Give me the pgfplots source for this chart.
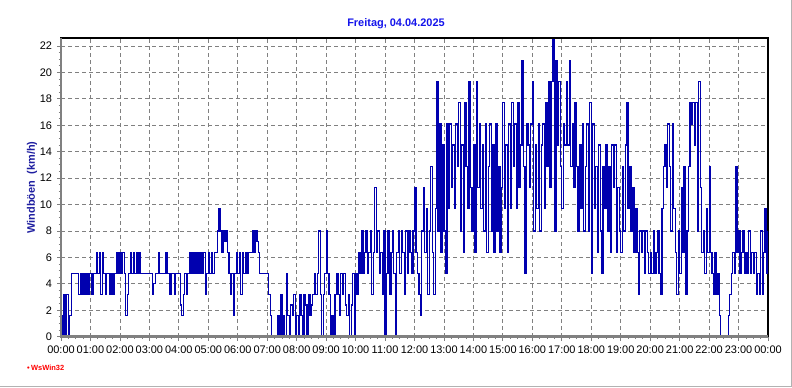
\documentclass[border=0pt]{standalone}
\usepackage{pgfplots}
\pgfplotsset{compat=1.18}
\usepackage{pgfplotstable}
\usepackage{fontspec}
\setmainfont{Liberation Sans}
\definecolor{lineblue}{RGB}{0,0,175}
\definecolor{titleblue}{RGB}{20,20,235}
\definecolor{labelblue}{RGB}{30,30,160}
\pgfplotstableread[row sep=\\]{
t v\\
0 1.6\\ 3 0\\ 6 3.2\\ 9 0\\ 12 3.2\\ 15 0\\ 18 1.6\\ 21 4.8\\ 24 4.8\\ 27 4.8\\ 30 4.8\\ 33 4.8\\ 36 3.2\\ 39 4.8\\ 42 3.2\\ 45 4.8\\ 48 3.2\\ 51 4.8\\ 54 3.2\\ 57 4.8\\
60 4.8\\ 63 3.2\\ 66 4.8\\ 69 4.8\\ 72 6.4\\ 75 4.8\\ 78 6.4\\ 81 3.2\\ 84 6.4\\ 87 4.8\\ 90 3.2\\ 93 4.8\\ 96 4.8\\ 99 3.2\\ 102 4.8\\ 105 3.2\\ 108 4.8\\ 111 4.8\\ 114 6.4\\ 117 4.8\\
120 6.4\\ 123 4.8\\ 126 6.4\\ 129 4.8\\ 132 1.6\\ 135 3.2\\ 138 4.8\\ 141 6.4\\ 144 4.8\\ 147 6.4\\ 150 4.8\\ 153 6.4\\ 156 4.8\\ 159 6.4\\ 162 4.8\\ 165 4.8\\ 168 4.8\\ 171 4.8\\ 174 4.8\\ 177 4.8\\
180 4.8\\ 183 4.8\\ 186 3.2\\ 189 4.0\\ 192 4.8\\ 195 4.8\\ 198 6.4\\ 201 4.8\\ 204 4.8\\ 207 4.8\\ 210 4.8\\ 213 6.4\\ 216 4.8\\ 219 4.8\\ 222 3.2\\ 225 4.8\\ 228 4.8\\ 231 3.2\\ 234 4.8\\ 237 4.8\\
240 4.8\\ 243 2.4\\ 246 1.6\\ 249 3.2\\ 252 4.8\\ 255 3.2\\ 258 4.8\\ 261 6.4\\ 264 4.8\\ 267 6.4\\ 270 4.8\\ 273 6.4\\ 276 4.8\\ 279 6.4\\ 282 4.8\\ 285 6.4\\ 288 4.8\\ 291 6.4\\ 294 3.2\\ 297 4.8\\
300 6.4\\ 303 4.8\\ 306 6.4\\ 309 4.8\\ 312 6.4\\ 315 6.4\\ 318 8.0\\ 321 9.7\\ 324 8.0\\ 327 6.4\\ 330 8.0\\ 333 7.2\\ 336 8.0\\ 339 6.4\\ 342 4.8\\ 345 3.2\\ 348 4.8\\ 351 1.6\\ 354 4.8\\ 357 6.4\\
360 4.8\\ 363 6.4\\ 366 3.2\\ 369 6.4\\ 372 4.8\\ 375 6.4\\ 378 4.8\\ 381 6.4\\ 384 6.4\\ 387 6.4\\ 390 8.0\\ 393 6.4\\ 396 8.0\\ 399 7.2\\ 402 6.4\\ 405 4.8\\ 408 4.8\\ 411 4.8\\ 414 4.8\\ 417 4.8\\
420 4.8\\ 423 3.2\\ 426 1.6\\ 429 0\\ 432 0\\ 435 0\\ 438 0\\ 441 1.6\\ 444 0\\ 447 3.2\\ 450 0\\ 453 1.6\\ 456 0\\ 459 4.8\\ 462 1.6\\ 465 0\\ 468 2.4\\ 471 1.6\\ 474 3.2\\ 477 0\\
480 1.6\\ 483 0\\ 486 3.2\\ 489 1.6\\ 492 0\\ 495 3.2\\ 498 2.4\\ 501 0\\ 504 3.2\\ 507 1.6\\ 510 2.4\\ 513 3.2\\ 516 4.8\\ 519 3.2\\ 522 4.8\\ 525 8.0\\ 528 3.2\\ 531 0\\ 534 3.2\\ 537 4.8\\
540 8.0\\ 543 4.8\\ 546 3.2\\ 549 0\\ 552 1.6\\ 555 0\\ 558 3.2\\ 561 4.8\\ 564 3.2\\ 567 1.6\\ 570 4.8\\ 573 3.2\\ 576 4.8\\ 579 2.4\\ 582 1.6\\ 585 3.2\\ 588 0\\ 591 2.4\\ 594 4.8\\ 597 0\\
600 4.8\\ 603 3.2\\ 606 6.4\\ 609 4.8\\ 612 8.0\\ 615 4.8\\ 618 6.4\\ 621 8.0\\ 624 4.8\\ 627 6.4\\ 630 8.0\\ 633 3.2\\ 636 6.4\\ 639 11.3\\ 642 6.4\\ 645 8.0\\ 648 4.8\\ 651 6.4\\ 654 3.2\\ 657 8.0\\
660 0\\ 663 4.8\\ 666 8.0\\ 669 3.2\\ 672 6.4\\ 675 8.0\\ 678 4.8\\ 681 0\\ 684 6.4\\ 687 8.0\\ 690 4.8\\ 693 8.0\\ 696 6.4\\ 699 3.2\\ 702 8.0\\ 705 4.8\\ 708 8.0\\ 711 6.4\\ 714 4.8\\ 717 8.0\\
720 11.3\\ 723 6.4\\ 726 4.8\\ 729 3.2\\ 732 1.6\\ 735 8.0\\ 738 11.3\\ 741 6.4\\ 744 9.7\\ 747 3.2\\ 750 8.0\\ 753 12.9\\ 756 6.4\\ 759 3.2\\ 762 9.7\\ 765 19.3\\ 768 8.0\\ 771 16.1\\ 774 6.4\\ 777 14.5\\
780 8.0\\ 783 4.8\\ 786 16.1\\ 789 9.7\\ 792 16.1\\ 795 11.3\\ 798 14.5\\ 801 9.7\\ 804 16.1\\ 807 12.9\\ 810 17.7\\ 813 8.0\\ 816 14.5\\ 819 6.4\\ 822 17.7\\ 825 12.9\\ 828 9.7\\ 831 19.3\\ 834 11.3\\ 837 8.0\\
840 14.5\\ 843 6.4\\ 846 19.3\\ 849 11.3\\ 852 16.1\\ 855 9.7\\ 858 14.5\\ 861 8.0\\ 864 16.1\\ 867 6.4\\ 870 12.9\\ 873 16.1\\ 876 8.0\\ 879 14.5\\ 882 6.4\\ 885 16.1\\ 888 8.0\\ 891 12.9\\ 894 6.4\\ 897 11.3\\
900 17.7\\ 903 9.7\\ 906 14.5\\ 909 6.4\\ 912 16.1\\ 915 9.7\\ 918 17.7\\ 921 12.9\\ 924 16.1\\ 927 9.7\\ 930 17.7\\ 933 11.3\\ 936 14.5\\ 939 20.9\\ 942 12.9\\ 945 4.8\\ 948 16.1\\ 951 14.5\\ 954 11.3\\ 957 16.1\\
960 19.3\\ 963 8.0\\ 966 14.5\\ 969 9.7\\ 972 16.1\\ 975 8.0\\ 978 14.5\\ 981 16.1\\ 984 9.7\\ 987 17.7\\ 990 12.9\\ 993 19.3\\ 996 11.3\\ 999 19.3\\ 1002 22.5\\ 1005 8.0\\ 1008 20.9\\ 1011 14.5\\ 1014 19.3\\ 1017 12.9\\
1020 9.7\\ 1023 16.1\\ 1026 14.5\\ 1029 19.3\\ 1032 14.5\\ 1035 20.9\\ 1038 12.9\\ 1041 16.1\\ 1044 11.3\\ 1047 17.7\\ 1050 12.9\\ 1053 8.0\\ 1056 14.5\\ 1059 9.7\\ 1062 16.1\\ 1065 8.0\\ 1068 12.9\\ 1071 16.1\\ 1074 8.0\\ 1077 17.7\\
1080 4.8\\ 1083 16.1\\ 1086 9.7\\ 1089 12.9\\ 1092 6.4\\ 1095 14.5\\ 1098 8.0\\ 1101 4.8\\ 1104 12.9\\ 1107 9.7\\ 1110 14.5\\ 1113 8.0\\ 1116 12.9\\ 1119 6.4\\ 1122 14.5\\ 1125 11.3\\ 1128 14.5\\ 1131 6.4\\ 1134 11.3\\ 1137 8.0\\
1140 6.4\\ 1143 12.9\\ 1146 8.0\\ 1149 14.5\\ 1152 17.7\\ 1155 9.7\\ 1158 12.9\\ 1161 8.0\\ 1164 11.3\\ 1167 6.4\\ 1170 9.7\\ 1173 6.4\\ 1176 3.2\\ 1179 8.0\\ 1182 6.4\\ 1185 8.0\\ 1188 4.8\\ 1191 8.0\\ 1194 6.4\\ 1197 4.8\\
1200 6.4\\ 1203 4.8\\ 1206 8.0\\ 1209 4.8\\ 1212 6.4\\ 1215 8.0\\ 1218 4.8\\ 1221 3.2\\ 1224 9.7\\ 1227 12.9\\ 1230 14.5\\ 1233 11.3\\ 1236 16.1\\ 1239 12.9\\ 1242 8.0\\ 1245 16.1\\ 1248 9.7\\ 1251 6.4\\ 1254 3.2\\ 1257 8.0\\
1260 4.8\\ 1263 11.3\\ 1266 6.4\\ 1269 12.9\\ 1272 3.2\\ 1275 8.0\\ 1278 12.9\\ 1281 17.7\\ 1284 16.1\\ 1287 17.7\\ 1290 14.5\\ 1293 17.7\\ 1296 8.0\\ 1299 19.3\\ 1302 11.3\\ 1305 6.4\\ 1308 8.0\\ 1311 4.8\\ 1314 9.7\\ 1317 6.4\\
1320 12.9\\ 1323 6.4\\ 1326 4.8\\ 1329 3.2\\ 1332 6.4\\ 1335 3.2\\ 1338 4.8\\ 1341 1.6\\ 1344 0\\ 1347 0\\ 1350 0\\ 1353 0\\ 1356 0\\ 1359 1.6\\ 1362 3.2\\ 1365 4.8\\ 1368 6.4\\ 1371 4.8\\ 1374 12.9\\ 1377 6.4\\
1380 8.0\\ 1383 4.8\\ 1386 6.4\\ 1389 8.0\\ 1392 4.8\\ 1395 6.4\\ 1398 4.8\\ 1401 8.0\\ 1404 4.8\\ 1407 6.4\\ 1410 4.8\\ 1413 6.4\\ 1416 3.2\\ 1419 4.8\\ 1422 3.2\\ 1425 8.0\\ 1428 3.2\\ 1431 6.4\\ 1434 9.7\\ 1437 4.8\\ 1440 8.0\\
}\windtable
\begin{document}
\begin{tikzpicture}[x=1bp,y=1bp]
\path[use as bounding box] (0,0) rectangle (792,387);
\begin{axis}[name=ax,
  at={(61bp,50.3bp)}, anchor=south west,
  scale only axis, width=707bp, height=298.7bp,
  xmin=0, xmax=1440, ymin=0, ymax=22.6,
  xtick={0,60,...,1440},
  xticklabels={00:00,01:00,02:00,03:00,04:00,05:00,06:00,07:00,08:00,09:00,10:00,11:00,12:00,13:00,14:00,15:00,16:00,17:00,18:00,19:00,20:00,21:00,22:00,23:00,00:00},
  ytick={0,2,...,22},
  minor x tick num=3, minor y tick num=3,
  xtick pos=bottom, ytick pos=left, tick align=outside,
  major tick length=4bp, minor tick length=2.5bp,
  every tick/.style={gray, line width=0.8bp},
  grid=major,
  grid style={gray, dash pattern=on 4bp off 3bp, line width=0.8bp},
  axis line style={black, line width=1.2bp},
  tick label style={font=\fontsize{11}{13}\selectfont},
  xticklabel style={yshift=-2bp},
  yticklabel style={xshift=-1.5bp},
  /pgf/number format/assume math mode=true,
]
\addplot[const plot, draw=lineblue, line width=1.2bp] table[x=t,y=v] {\windtable};
\end{axis}
\draw[gray, line width=2.5bp] (ax.north west) -- (ax.south west) -- (ax.south east);
\draw[gray!60, line width=1bp] (0,0.5) -- (791.5,0.5) -- (791.5,387);
\node[font=\bfseries\fontsize{11}{13}\selectfont, text=titleblue] at (396,363) {Freitag, 04.04.2025};
\node[rotate=90, font=\bfseries\fontsize{11}{13}\selectfont, text=labelblue] at (32,199.5) {Windböen\ \ (km/h)};
\node[anchor=west, font=\bfseries\fontsize{7.5}{9}\selectfont, text=red, inner sep=0pt] at (27,19.3) {\textbullet\,WsWin32};
\end{tikzpicture}
\end{document}
